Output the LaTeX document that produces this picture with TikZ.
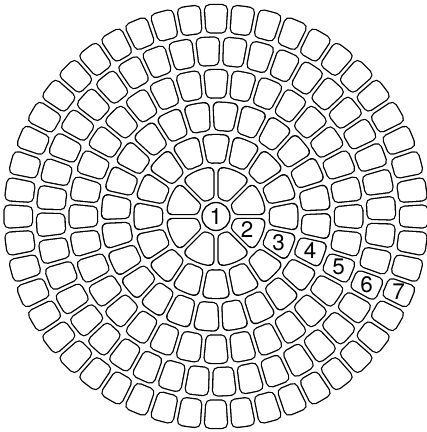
\documentclass[tikz,border=0pt]{standalone}
\usepackage{fontspec}
\setmainfont{TeX Gyre Heros}
\begin{document}
\begin{tikzpicture}[x=1pt, y=1pt,
    tile/.style={draw=black, line width=11.3pt, line join=round,
      postaction={draw=white, fill=white, line width=8.7pt, line join=round}},
    tilenum/.style={font=\fontsize{22.5}{22.5}\selectfont, inner sep=0pt}]
  \useasboundingbox (-216, -215.5) rectangle (211, 216.5);

  % Centre disc
  \node [tilenum, draw, circle, line width=1.3pt, minimum size=28pt] (c1) at (0, 0) {1};

  % Rings of tiles: ring \k has 8(\k-1) tiles, the numbered one sits at angle \ang
  \foreach \k/\rin/\rout/\ang in {
    2/18/49.5/-22.5,
    3/53.5/82/-22.5,
    4/86/114.5/-20,
    5/118.5/147/-22.5,
    6/151/179.5/-24.3,
    7/183.5/212/-22.5
  } {
    \pgfmathtruncatemacro\nt{8*(\k-1)}
    \pgfmathsetmacro\tw{360/\nt}
    % shrink by the corner radius (5) and half the gap (2)
    \pgfmathsetmacro\ri{\rin + 5}
    \pgfmathsetmacro\ro{\rout - 5}
    \pgfmathsetmacro\dri{asin(7/\ri)}
    \pgfmathsetmacro\dro{asin(7/\ro)}
    \foreach \j in {1,...,\nt} {
      \pgfmathsetmacro\st{\ang - \tw/2 + (\j-1)*\tw}
      \pgfmathsetmacro\en{\st + \tw}
      \draw [tile] (\st+\dri:\ri) -- (\st+\dro:\ro)
        arc [start angle=\st+\dro, end angle=\en-\dro, radius=\ro]
        -- (\en-\dri:\ri)
        arc [start angle=\en-\dri, end angle=\st+\dri, radius=\ri] -- cycle;
    }
    \pgfmathsetmacro\rmid{(\rin + \rout)/2}
    \node [tilenum] (n\k) at (\ang:\rmid) {\k};
  }

\end{tikzpicture}
\end{document}
